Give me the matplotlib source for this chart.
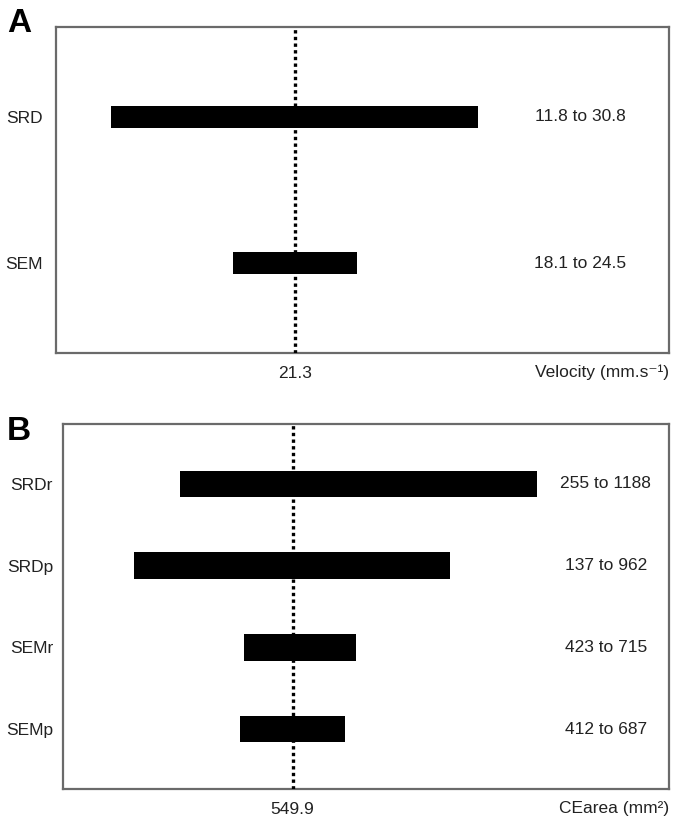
import matplotlib
matplotlib.use("Agg")
import matplotlib.pyplot as plt

plt.rcParams['font.family'] = ['Liberation Sans', 'DejaVu Sans']

# panel A: velocity limits of agreement
vel_labels = ['SRD', 'SEM']
vel_low = [11.8, 18.1]
vel_high = [30.8, 24.5]
vel_mean = 21.3
vel_unit = 'Velocity (mm.s\u207b\u00b9)'

# panel B: CE area limits of agreement
area_labels = ['SRDr', 'SRDp', 'SEMr', 'SEMp']
area_low = [255, 137, 423, 412]
area_high = [1188, 962, 715, 687]
area_mean = 549.9
area_unit = 'CEarea (mm\u00b2)'

W, H = 685, 831
fig = plt.figure(figsize=(W / 100, H / 100), dpi=100)


def panel(rect, labels, low, high, mean, unit, xlim, ypad, bar_h, text_x,
          ylab_pad, letter, letter_dy):
    l, t, r, b = rect
    ax = fig.add_axes([l / W, 1 - b / H, (r - l) / W, (b - t) / H])
    pos = list(range(len(labels)))
    ax.barh(pos, [hi - lo for lo, hi in zip(low, high)], left=low,
            height=bar_h, color='black', zorder=2)
    ax.axvline(mean, color='black', linestyle=(0, (1, 1)), linewidth=2.4, zorder=3)
    ax.set_xlim(*xlim)
    ax.set_ylim(len(labels) - 1 + ypad, -ypad)
    ax.set_yticks(pos)
    ax.set_yticklabels(labels, fontsize=12.5, color='#222222')
    ax.set_xticks([mean])
    ax.set_xticklabels([f'{mean}'], fontsize=12.5, color='#222222')
    ax.tick_params(length=0)
    ax.tick_params(axis='x', pad=9)
    ax.tick_params(axis='y', pad=ylab_pad)
    for s in ax.spines.values():
        s.set_color('#6a6a6a')
        s.set_linewidth(1.6)
    for p, lo, hi in zip(pos, low, high):
        ax.text(text_x, p, f'{lo} to {hi}', ha='center', va='center',
                fontsize=12.5, color='#222222')
    ax.text(1.0, -19 / (b - t), unit, transform=ax.transAxes,
            ha='right', va='center', fontsize=12.5, color='#222222')
    fig.text(7 / W, 1 - (t + letter_dy) / H, letter, fontsize=24,
             fontweight='bold', ha='left', va='center')
    return ax


panel((56, 27, 669, 353), vel_labels, vel_low, vel_high, vel_mean, vel_unit,
      (8.93, 40.68), 0.616, 0.15, 36.07, 9.4, 'A', -3)
panel((63, 424, 669, 789), area_labels, area_low, area_high, area_mean, area_unit,
      (-49.7, 1533.4), 0.73, 0.32, 1368, 7.2, 'B', 8)

fig.savefig('out.png', dpi=100, facecolor='white')
